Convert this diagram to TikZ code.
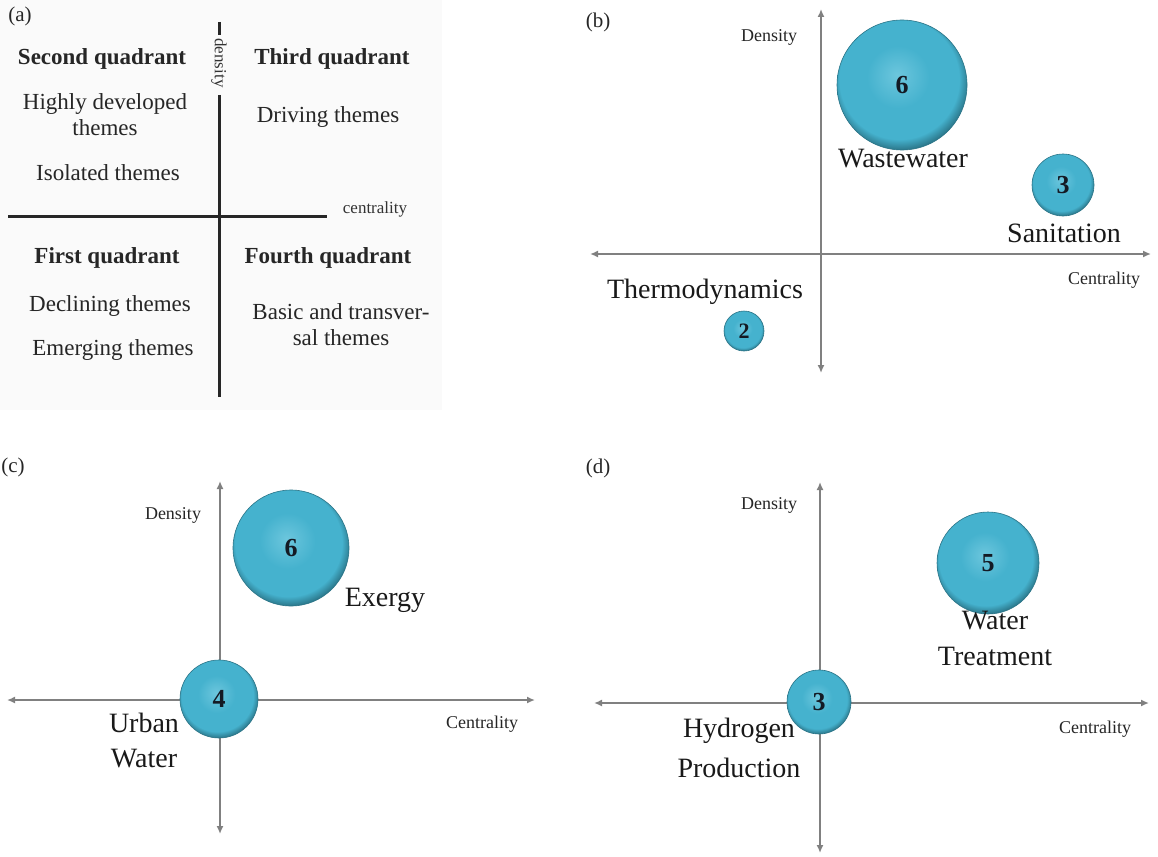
\documentclass[tikz,border=0pt]{standalone}
\usepackage{fontspec}
\setmainfont{Liberation Serif}
\usetikzlibrary{arrows.meta}

\definecolor{bubmain}{HTML}{45B2CE}
\definecolor{bublight}{HTML}{6CC6DD}
\definecolor{bubdark}{HTML}{2A7487}
\definecolor{axisgray}{HTML}{808080}
\definecolor{numink}{HTML}{141A24}

% sphere-like fill for the theme bubbles: lighter top, darker rim
\pgfdeclareradialshading{bubshade}{\pgfpoint{-2bp}{4bp}}{%
  color(0bp)=(bublight); color(12bp)=(bubmain); color(23bp)=(bubmain);
  color(27bp)=(bubdark); color(50bp)=(bubdark)}

\tikzset{
  qhead/.style={font=\fontsize{23}{26}\selectfont\bfseries, inner sep=0pt, text=black!85},
  qtext/.style={font=\fontsize{23}{26}\selectfont, inner sep=0pt, text=black!85, align=center},
  qsmall/.style={font=\fontsize{17}{17}\selectfont, inner sep=0pt, text=black!80},
  qline/.style={line width=3pt, draw=black!85},
  plabel/.style={font=\fontsize{21}{21}\selectfont, inner sep=0pt, text=black!85},
  axislab/.style={font=\fontsize{18}{18}\selectfont, inner sep=0pt, text=black!85},
  theme/.style={font=\fontsize{28}{34}\selectfont, inner sep=0pt, text=black!90, align=center},
  axis/.style={draw=axisgray, line width=1.8pt,
    {Latex[length=8pt,width=7pt]}-{Latex[length=8pt,width=7pt]}},
  bubble/.style={circle, inner sep=0pt, shading=bubshade, draw=bubdark, line width=0.6pt,
    font=\fontsize{26}{26}\selectfont\bfseries, text=numink},
}

\begin{document}
\begin{tikzpicture}[x=1pt, y=-1pt]
\useasboundingbox (0,0) rectangle (1158,856);
\fill[white] (0,0) rectangle (1158,856);
\fill[black!2] (0,0) rectangle (442,410);

% ---------------- (a) strategic diagram scheme ----------------
\node[plabel] (la) at (20,16) {(a)};
\coordinate (adash1) at (219,22);
\coordinate (adash2) at (219,35);
\coordinate (avtop) at (219,95);
\coordinate (avbot) at (219,397);
\coordinate (ahl) at (8,216);
\coordinate (ahr) at (327,216);
\draw[qline] (adash1) -- (adash2);
\draw[qline] (avtop) -- (avbot);
\draw[qline] (ahl) -- (ahr);
\node[qsmall, rotate=-90] (aden) at (219,63) {density};
\node[qsmall] (acen) at (375,209) {centrality};

\node[qhead] (q2) at (102,59) {Second quadrant};
\node[qhead] (q3) at (332,59) {Third quadrant};
\node[qtext] (hdev) at (105,115) {Highly developed\\themes};
\node[qtext] (drv) at (328,117) {Driving themes};
\node[qtext] (iso) at (108,173) {Isolated themes};
\node[qhead] (q1) at (107,258) {First quadrant};
\node[qhead] (q4) at (328,258) {Fourth quadrant};
\node[qtext] (dec) at (110,306) {Declining themes};
\node[qtext] (emg) at (113,350) {Emerging themes};
\node[qtext] (bas) at (341,325) {Basic and transver-\\sal themes};

% ---------------- (b) ----------------
\node[plabel] (lb) at (598,22) {(b)};
\coordinate (bT) at (821,9);
\coordinate (bB) at (821,373);
\coordinate (bL) at (590,254);
\coordinate (bR) at (1151,254);
\draw[axis] (bT) -- (bB);
\draw[axis] (bL) -- (bR);
\node[axislab] (bden) at (769,37) {Density};
\node[axislab] (bcen) at (1104,280) {Centrality};
\node[bubble, minimum size=130pt] (b6) at (902,85) {6};
\node[bubble, minimum size=62pt] (b3) at (1063,185) {3};
\node[bubble, minimum size=40pt, font=\fontsize{22}{22}\selectfont\bfseries] (b2) at (744,331) {2};
\node[theme] (bww) at (903,159) {Wastewater};
\node[theme] (bsan) at (1064,233) {Sanitation};
\node[theme] (bthd) at (705,292) {Thermodynamics};

% ---------------- (c) ----------------
\node[plabel] (lc) at (13,467) {(c)};
\coordinate (cT) at (220,481);
\coordinate (cB) at (220,834);
\coordinate (cL) at (7,700);
\coordinate (cR) at (535,700);
\draw[axis] (cT) -- (cB);
\draw[axis] (cL) -- (cR);
\node[axislab] (cden) at (173,515) {Density};
\node[axislab] (ccen) at (482,724) {Centrality};
\node[bubble, minimum size=116pt] (c6) at (291,548) {6};
\node[bubble, minimum size=78pt] (c4) at (219,699) {4};
\node[theme] (cexe) at (385,600) {Exergy};
\node[theme, font=\fontsize{28}{35}\selectfont] (curb) at (144,740) {Urban\\Water};

% ---------------- (d) ----------------
\node[plabel] (ld) at (598,468) {(d)};
\coordinate (dT) at (820,482);
\coordinate (dB) at (820,853);
\coordinate (dL) at (594,703);
\coordinate (dR) at (1149,703);
\draw[axis] (dT) -- (dB);
\draw[axis] (dL) -- (dR);
\node[axislab] (dden) at (769,505) {Density};
\node[axislab] (dcen) at (1095,729) {Centrality};
\node[bubble, minimum size=102pt] (d5) at (988,563) {5};
\node[bubble, minimum size=64pt] (d3) at (819,702) {3};
\node[theme, font=\fontsize{28}{36}\selectfont] (dwt) at (995,638) {Water\\Treatment};
\node[theme, font=\fontsize{28}{40}\selectfont] (dhp) at (739,748) {Hydrogen\\Production};
\end{tikzpicture}
\end{document}
